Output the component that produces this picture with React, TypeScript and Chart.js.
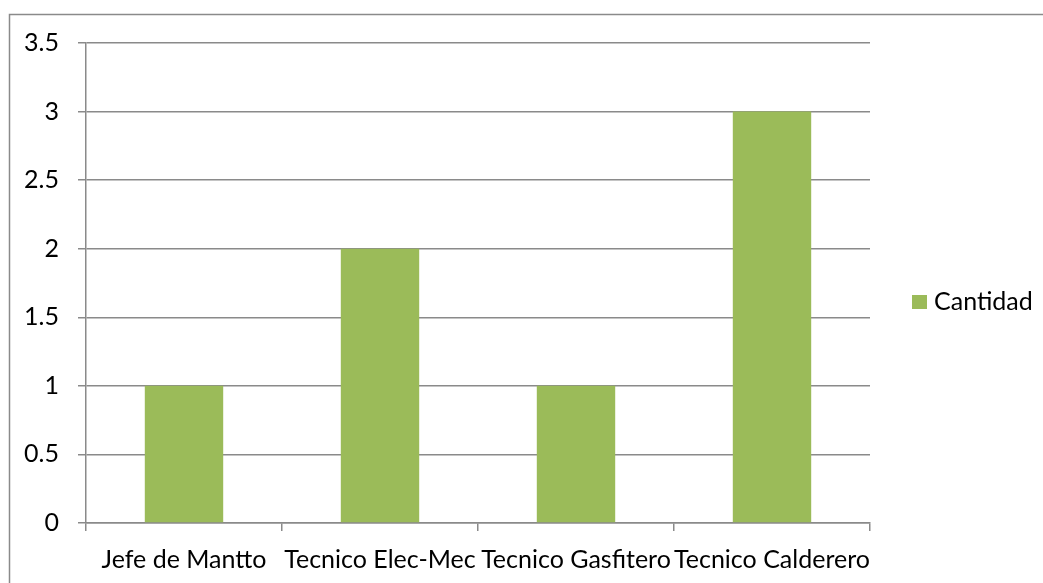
import React, { useEffect, useRef } from "react";
import { Chart, registerables } from "chart.js";

Chart.register(...registerables);

const categories = ["Jefe de Mantto", "Tecnico Elec-Mec", "Tecnico Gasfitero", "Tecnico Calderero"];
const cantidad = [1, 2, 1, 3];
const seriesLabel = "Cantidad";
const barColor = "#9BBB59";
const lineColor = "#8a8a8a";
const fontFamily = "Lato, 'Liberation Sans', sans-serif";
const fontSize = 25;

const W = 1043;
const H = 583;

// white background plus the outer frame line
const framePlugin = {
  id: "frame",
  beforeDraw(chart: any) {
    const ctx = chart.ctx;
    ctx.save();
    ctx.fillStyle = "#ffffff";
    ctx.fillRect(0, 0, chart.width, chart.height);
    ctx.strokeStyle = lineColor;
    ctx.lineWidth = 1.5;
    ctx.beginPath();
    ctx.moveTo(9.5, H + 2);
    ctx.lineTo(9.5, 14.5);
    ctx.lineTo(W + 2, 14.5);
    ctx.stroke();
    ctx.restore();
  },
};

// legend entry drawn to the right of the plot
const legendPlugin = {
  id: "sideLegend",
  afterDraw(chart: any) {
    const ctx = chart.ctx;
    const ds = chart.data.datasets[0];
    ctx.save();
    ctx.fillStyle = ds.backgroundColor;
    ctx.fillRect(912, 295, 15, 14);
    ctx.fillStyle = "#000000";
    ctx.font = `${fontSize}px ${fontFamily}`;
    ctx.textBaseline = "middle";
    ctx.textAlign = "left";
    ctx.fillText(ds.label, 934, 302);
    ctx.restore();
  },
};

export default function App() {
  const ref = useRef<HTMLCanvasElement>(null);

  useEffect(() => {
    if (!ref.current) return;
    const chart = new Chart(ref.current, {
      type: "bar",
      data: {
        labels: categories,
        datasets: [
          {
            label: seriesLabel,
            data: cantidad,
            backgroundColor: barColor,
            barPercentage: 0.4,
            categoryPercentage: 1,
          },
        ],
      },
      options: {
        responsive: false,
        animation: false,
        devicePixelRatio: 1,
        layout: { padding: { left: 0, top: 43, right: 173, bottom: 0 } },
        plugins: {
          legend: { display: false },
          tooltip: { enabled: false },
        },
        scales: {
          x: {
            offset: true,
            grid: {
              offset: true,
              drawOnChartArea: false,
              drawTicks: true,
              tickLength: 8,
              color: lineColor,
              lineWidth: 1.5,
            },
            border: { color: lineColor, width: 1.5 },
            ticks: {
              color: "#000000",
              font: { family: fontFamily, size: fontSize },
              padding: 14,
              maxRotation: 0,
              autoSkip: false,
            },
            afterFit(scale: any) {
              scale.height = H - 523;
            },
          },
          y: {
            min: 0,
            max: 3.5,
            grid: {
              color: lineColor,
              lineWidth: 1.5,
              tickLength: 8,
            },
            border: { color: lineColor, width: 1.5 },
            ticks: {
              stepSize: 0.5,
              color: "#000000",
              font: { family: fontFamily, size: fontSize },
              padding: 19,
              callback: (v: any) => String(Number(v)),
            },
            afterFit(scale: any) {
              scale.width = 86;
            },
          },
        },
      },
      plugins: [framePlugin, legendPlugin],
    });
    return () => chart.destroy();
  }, []);

  return (
    <div style={{ position: "absolute", left: 0, top: 0, width: W, height: H }}>
      <canvas ref={ref} width={W} height={H} style={{ display: "block", width: W, height: H }} />
    </div>
  );
}
